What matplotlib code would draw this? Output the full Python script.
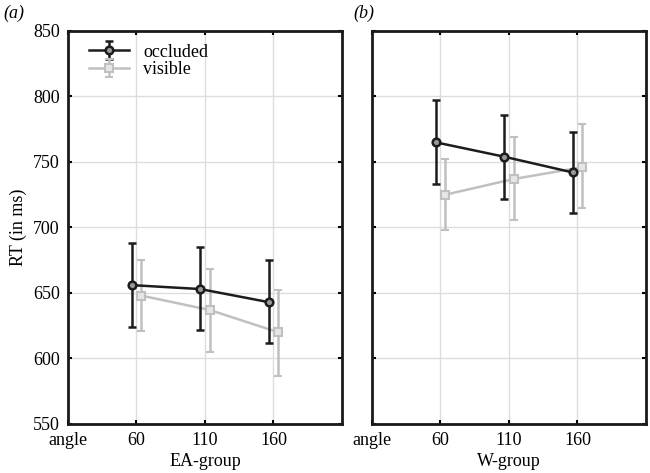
import matplotlib
matplotlib.use("Agg")
import matplotlib.pyplot as plt

angles = [60, 110, 160]
tick_vals = [10, 60, 110, 160]
tick_labels = ["angle", "60", "110", "160"]

ea_occ = [656, 653, 643]
ea_occ_lo = [624, 622, 612]
ea_occ_hi = [688, 685, 675]
ea_vis = [648, 637, 620]
ea_vis_lo = [621, 605, 587]
ea_vis_hi = [675, 668, 652]

w_occ = [765, 754, 742]
w_occ_lo = [733, 722, 711]
w_occ_hi = [797, 786, 773]
w_vis = [725, 737, 746]
w_vis_lo = [698, 706, 715]
w_vis_hi = [752, 769, 779]

plt.rcParams['font.family'] = ['Liberation Serif', 'DejaVu Serif']
plt.rcParams['font.size'] = 13

fig = plt.figure(figsize=(6.5, 4.73), dpi=100)
ax1 = fig.add_axes([0.1046, 0.1036, 0.4215, 0.831])
ax2 = fig.add_axes([0.5723, 0.1036, 0.4215, 0.831])

dark = '#1c1c1c'
light = '#c0c0c0'
off = 3.5

def panel(ax, occ, olo, ohi, vis, vlo, vhi, xlabel, showy):
    xo = [a - off for a in angles]
    xv = [a + off for a in angles]
    ax.errorbar(xv, vis, yerr=[[v - l for v, l in zip(vis, vlo)], [h - v for v, h in zip(vis, vhi)]],
                color=light, lw=1.8, marker='s', ms=5.5, mfc='#e6e6e6', mec=light, mew=1.5,
                capsize=3, capthick=1.8, elinewidth=1.8, label='visible', zorder=3)
    ax.errorbar(xo, occ, yerr=[[v - l for v, l in zip(occ, olo)], [h - v for v, h in zip(occ, ohi)]],
                color=dark, lw=1.8, marker='o', ms=5.5, mfc='#999999', mec=dark, mew=1.8,
                capsize=3, capthick=1.8, elinewidth=1.8, label='occluded', zorder=4)
    ax.set_xlim(10, 210)
    ax.set_ylim(550, 850)
    ax.set_xticks(tick_vals)
    ax.set_xticklabels(tick_labels)
    ax.set_yticks(range(550, 851, 50))
    if not showy:
        ax.set_yticklabels([])
    ax.grid(True, color='#dddddd', lw=1)
    ax.set_axisbelow(True)
    ax.tick_params(direction='in', length=3, width=1.5, top=True, right=True, labelsize=13, pad=6)
    for s in ax.spines.values():
        s.set_linewidth(2)
        s.set_color('#1a1a1a')
    ax.set_xlabel(xlabel, fontsize=13, labelpad=3)

panel(ax1, ea_occ, ea_occ_lo, ea_occ_hi, ea_vis, ea_vis_lo, ea_vis_hi, 'EA-group', True)
panel(ax2, w_occ, w_occ_lo, w_occ_hi, w_vis, w_vis_lo, w_vis_hi, 'W-group', False)
ax1.set_ylabel('RT (in ms)', fontsize=13, labelpad=4)

h, l = ax1.get_legend_handles_labels()
ax1.legend(h[::-1], l[::-1], loc='upper left', frameon=False, fontsize=13,
           borderaxespad=0.3, handlelength=2.2, labelspacing=0.05, bbox_to_anchor=(0.03, 1.0))

fig.text(0.005, 0.99, '(a)', fontsize=13, style='italic', va='top')
fig.text(0.543, 0.99, '(b)', fontsize=13, style='italic', va='top')

fig.savefig('out.png', dpi=100)
